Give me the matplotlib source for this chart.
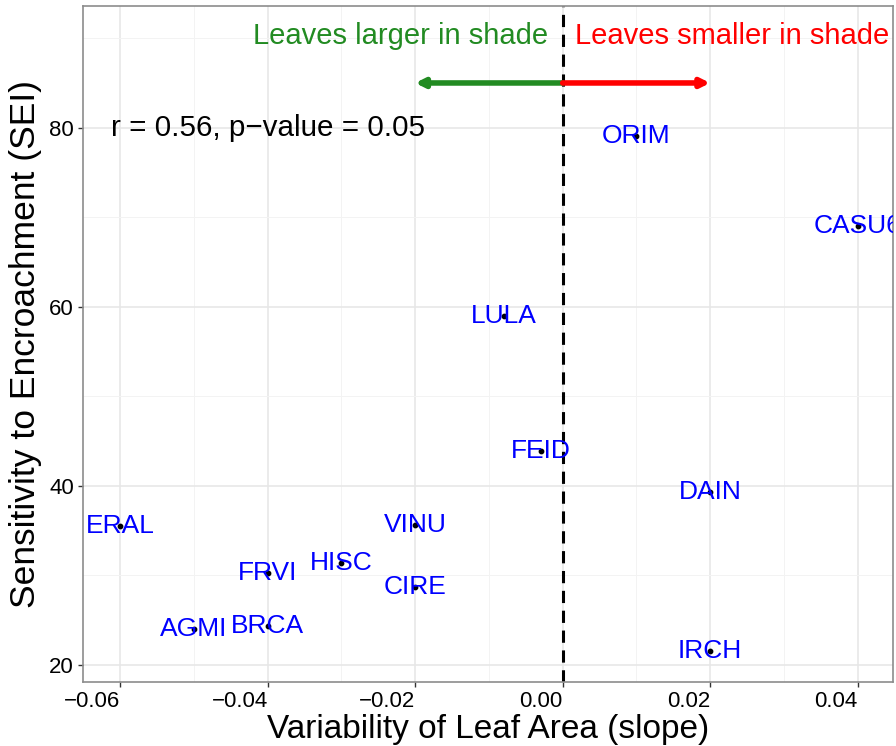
import matplotlib
matplotlib.use("Agg")
import matplotlib.pyplot as plt
from matplotlib.ticker import MultipleLocator

plt.rcParams['font.family'] = ['Liberation Sans', 'DejaVu Sans']

species = ["ERAL", "AGMI", "BRCA", "FRVI", "HISC", "VINU", "CIRE",
           "LULA", "FEID", "ORIM", "CASU6", "DAIN", "IRCH"]
slope = [-0.060, -0.050, -0.040, -0.040, -0.030, -0.020, -0.020,
         -0.008, -0.003, 0.010, 0.040, 0.020, 0.020]
sei = [35.5, 24.0, 24.4, 30.3, 31.4, 35.6, 28.7,
       59.0, 43.9, 79.1, 69.0, 39.3, 21.6]

x_ticks = [-0.06, -0.04, -0.02, 0.00, 0.02, 0.04]
x_tick_labels = ["\u22120.06", "\u22120.04", "\u22120.02", "0.00", "0.02", "0.04"]
y_ticks = [20, 40, 60, 80]

stat_text = "r = 0.56, p\u2212value = 0.05"

fig = plt.figure(figsize=(8.96, 7.46), dpi=100)
ax = fig.add_axes([0.093, 0.0862, 0.9037, 0.9058])

ax.set_xlim(-0.065, 0.0448)
ax.set_ylim(18.13, 93.6)

# grid (theme_bw style)
ax.set_xticks(x_ticks)
ax.set_xticklabels(x_tick_labels, ha='right')
ax.set_yticks(y_ticks)
ax.xaxis.set_minor_locator(MultipleLocator(0.01))
ax.yaxis.set_minor_locator(MultipleLocator(10))
ax.grid(which='major', color='#e6e6e6', linewidth=1.1, zorder=0)
ax.grid(which='minor', color='#f3f3f3', linewidth=0.7, zorder=0)
ax.set_axisbelow(True)
for s in ax.spines.values():
    s.set_color('#8c8c8c')
    s.set_linewidth(1.2)
ax.tick_params(which='major', length=3.8, width=1, color='#333333',
               labelsize=16, labelcolor='black')
ax.tick_params(axis='x', pad=3)
ax.tick_params(axis='y', pad=3)
ax.tick_params(which='minor', length=0)

# reference line at zero slope
ax.axvline(0.0, color='black', linestyle=(0, (4, 2.5)), linewidth=2.2, zorder=2)

# points and species labels
ax.scatter(slope, sei, s=10, color='black', zorder=3)
for name, xv, yv in zip(species, slope, sei):
    ax.text(xv, yv, name, color='#0000ff', fontsize=19, ha='center',
            va='center', clip_on=True, zorder=4)

# direction arrows
ax.annotate("", xy=(-0.020, 85), xytext=(0.0, 85),
            arrowprops=dict(arrowstyle='-|>,head_length=0.5,head_width=0.25',
                            color='#228b22', lw=4, shrinkA=0, shrinkB=0), zorder=3)
ax.annotate("", xy=(0.020, 85), xytext=(0.0, 85),
            arrowprops=dict(arrowstyle='-|>,head_length=0.5,head_width=0.25',
                            color='#ff0000', lw=4, shrinkA=0, shrinkB=0), zorder=3)
ax.text(-0.002, 90.3, "Leaves larger in shade", color='#228b22', fontsize=21,
        ha='right', va='center')
ax.text(0.0017, 90.3, "Leaves smaller in shade", color='#ff0000', fontsize=21,
        ha='left', va='center')

ax.text(-0.040, 80, stat_text, color='black', fontsize=21.3, ha='center', va='center')

ax.set_xlabel("Variability of Leaf Area (slope)", fontsize=24, labelpad=1)
ax.set_ylabel("Sensitivity to Encroachment (SEI)", fontsize=25.5, labelpad=5)

fig.savefig("out.png", dpi=100)
